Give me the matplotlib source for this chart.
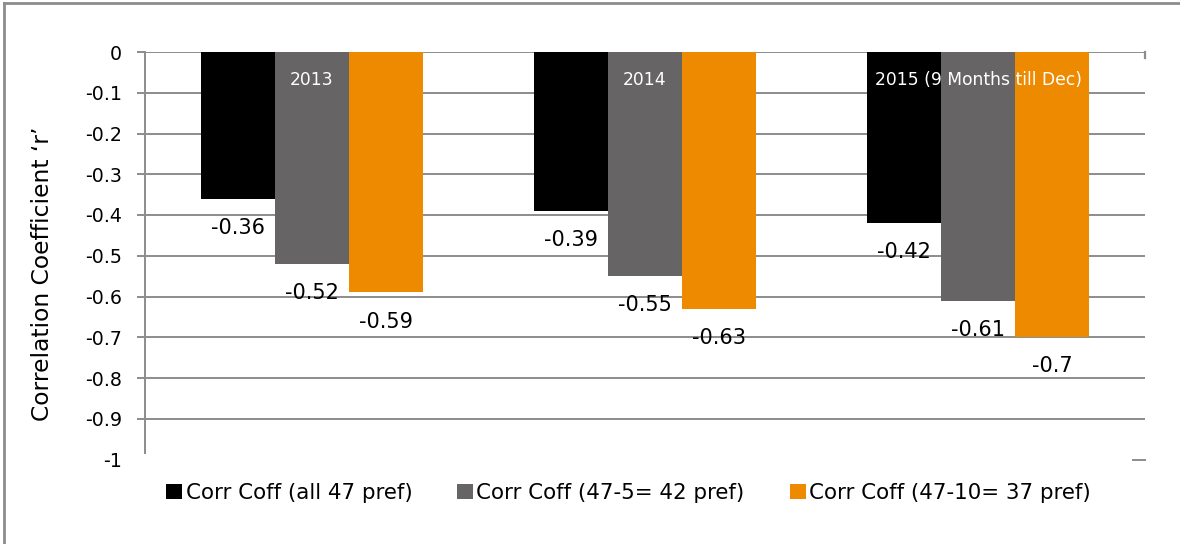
import matplotlib.pyplot as plt
from matplotlib.lines import Line2D
import numpy as np

plt.rcParams['font.family'] = ['DejaVu Sans']

# data
years = ['2013', '2014', '2015 (9 Months till Dec)']
series_names = ['Corr Coff (all 47 pref)', 'Corr Coff (47-5= 42 pref)', 'Corr Coff (47-10= 37 pref)']
all_47 = [-0.36, -0.39, -0.42]
minus_5 = [-0.52, -0.55, -0.61]
minus_10 = [-0.59, -0.63, -0.7]
y_ticks = [0, -0.1, -0.2, -0.3, -0.4, -0.5, -0.6, -0.7, -0.8, -0.9, -1]
y_tick_labels = ['0', '-0.1', '-0.2', '-0.3', '-0.4', '-0.5', '-0.6', '-0.7', '-0.8', '-0.9', '-1']

colors = ['#000000', '#666465', '#EE8A00']
grid_c = '#8c8c8c'

fig = plt.figure(figsize=(11.8, 5.44), dpi=100)
ax = fig.add_axes([145/1180, 1-459.5/544, 1000/1180, 407.5/544])

x = np.arange(len(years))
w = 2/9
for i, (vals, name, c) in enumerate(zip([all_47, minus_5, minus_10], series_names, colors)):
    pos = x + (i-1)*w
    ax.bar(pos, vals, width=w, color=c, label=name, zorder=2)
    for p, v in zip(pos, vals):
        ax.annotate(f'{v:g}', (p, v), xytext=(0, -21), textcoords='offset points',
                    ha='center', va='center', fontsize=15, color='black')

# horizontal gridlines (Excel draws none at -1)
for t in y_ticks[:-1]:
    ax.axhline(t, color=grid_c, lw=1.4, zorder=1)
ax.plot([0.988, 1.0], [-1, -1], color=grid_c, lw=1.4,
        transform=ax.get_yaxis_transform(), clip_on=False)
# little end tick of the category axis
ax.plot([1.0, 1.0], [0, -0.015], color=grid_c, lw=1.6,
        transform=ax.get_yaxis_transform(), clip_on=False)

# category labels sit inside the bars near the top
for xi, yr in zip(x, years):
    ax.annotate(yr, (xi, 0), xytext=(0, -20), textcoords='offset points',
                ha='center', va='center', fontsize=12.3, color='white', zorder=3)

ax.set_xlim(-0.5, 2.5)
ax.set_ylim(-1, 0)
ax.set_xticks([])
ax.set_yticks(y_ticks)
ax.set_yticklabels(y_tick_labels, fontsize=13.7)
ax.tick_params(axis='y', length=5.8, width=1.4, color=grid_c, pad=10.5)
ax.yaxis.get_major_ticks()[-1].tick1line.set_visible(False)
for s in ['top', 'right', 'bottom']:
    ax.spines[s].set_visible(False)
ax.spines['left'].set_color(grid_c)
ax.spines['left'].set_linewidth(1.4)
ax.spines['left'].set_bounds(-0.985, 0)

fig.text(43/1180, 1-274/544, 'Correlation Coefficient \u2018r\u2019', rotation=90,
         ha='center', va='center', fontsize=16.8)

leg = fig.legend(loc='center', bbox_to_anchor=(628.5/1180, 1-493/544), ncol=3, frameon=False,
                 fontsize=15.4, handlelength=0.75, handleheight=0.75, handletextpad=0.15,
                 columnspacing=2.1)

# chart border, only top and left edges show
fig.add_artist(Line2D([4/1180, 4/1180], [0, 1-3/544], color=grid_c, lw=2, transform=fig.transFigure))
fig.add_artist(Line2D([4/1180, 1], [1-3/544, 1-3/544], color=grid_c, lw=2, transform=fig.transFigure))

fig.savefig('out.png', dpi=100)
